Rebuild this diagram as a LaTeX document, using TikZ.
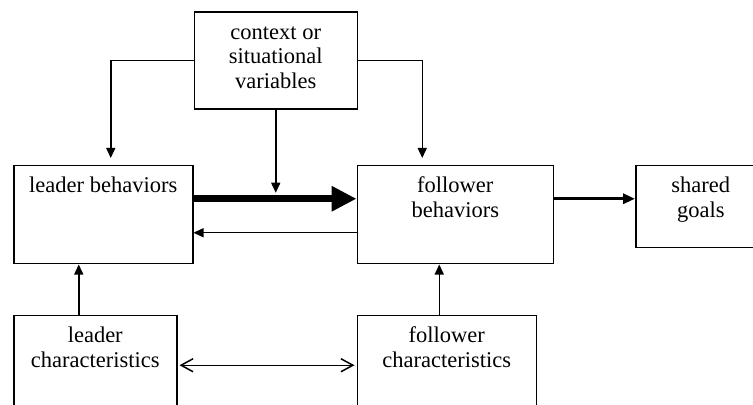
\documentclass[tikz,border=0pt]{standalone}
\usepackage{fontspec}
\setmainfont{Liberation Serif}
\usetikzlibrary{positioning, arrows.meta}
\newcommand{\boxlines}[1]{\begin{tabular}[t]{@{}c@{}}#1\end{tabular}}
\tikzstyle{box} = [draw, line width=0.75pt, anchor=north west, inner sep=0pt]
\tikzstyle{intext} = [anchor=base, inner sep=0pt, yshift=-14pt, font=\fontsize{11.25}{12.25}\selectfont]
\tikzstyle{arrow} = [line width=0.75pt, -{Triangle[length=5pt,width=4.5pt]}]
\tikzstyle{bigarrow} = [line width=3.25pt, -{Triangle[length=12.5pt,width=12pt]}]
\tikzstyle{midarrow} = [line width=1.5pt, -{Triangle[length=6pt,width=5pt]}]
\tikzstyle{twoway} = [line width=0.75pt, {Straight Barb[length=6pt,width=6.5pt]}-{Straight Barb[length=6pt,width=6.5pt]}]

\begin{document}
\begin{tikzpicture}
        \useasboundingbox (0,0) rectangle (376.5pt,-202.5pt);
        \clip (0,0) rectangle (376.5pt,-202.5pt);
        \node[box, minimum width=89.5pt, minimum height=49pt, label={[intext]north:\boxlines{leader behaviors}}] (lb) at (6.5pt,-82.5pt) {};
        \node[box, minimum width=98pt, minimum height=49pt, right=81.5pt of lb.north east, anchor=north west, label={[intext]north:\boxlines{follower\\behaviors}}] (fb) {};
        \node[box, minimum width=65pt, minimum height=41pt, right=40.5pt of fb.north east, anchor=north west, label={[intext]north:\boxlines{shared\\goals}}] (sg) {};
        \node[box, minimum width=81.5pt, minimum height=48.5pt, above=27.5pt of lb.north east, anchor=south west, label={[intext]north:\boxlines{context or\\situational\\variables}}] (ctx) {};
        \node[box, minimum width=81.5pt, minimum height=50pt, below=25pt of lb.south west, anchor=north west, label={[intext]north:\boxlines{leader\\characteristics}}] (lc) {};
        \node[box, minimum width=89.5pt, minimum height=50pt, below=25pt of fb.south west, anchor=north west, label={[intext]north:\boxlines{follower\\characteristics}}] (fc) {};
        \coordinate (lbtop) at ([xshift=3.75pt]lb.north);
        \coordinate (fbtop) at ([xshift=-16.5pt]fb.north);
        \coordinate (lbhi) at ([yshift=8pt]lb.east);
        \coordinate (fblo) at ([yshift=-9pt]fb.west);
        \coordinate (fbhi) at ([yshift=8pt]fb.east);
        \coordinate (lcup) at ([xshift=-8.25pt]lc.north);
        \coordinate (fcup) at ([xshift=-3.75pt]fc.north);
        \draw[arrow, shorten >=3.5pt] (ctx.west) -| (lbtop);
        \draw[arrow, shorten >=3.5pt] (ctx.east) -| (fbtop);
        \draw[bigarrow] (lbhi) -- (lbhi -| fb.west);
        \draw[arrow, shorten >=3pt] (ctx.south) -- (ctx.south |- lbhi);
        \draw[arrow] (fblo) -- (fblo -| lb.east);
        \draw[midarrow] (fbhi) -- (fbhi -| sg.west);
        \draw[arrow] (lcup) -- (lcup |- lb.south);
        \draw[arrow] (fcup) -- (fcup |- fb.south);
        \draw[twoway, shorten <=1pt, shorten >=1pt] (lc.east) -- (fc.west);
\end{tikzpicture}
\end{document}
